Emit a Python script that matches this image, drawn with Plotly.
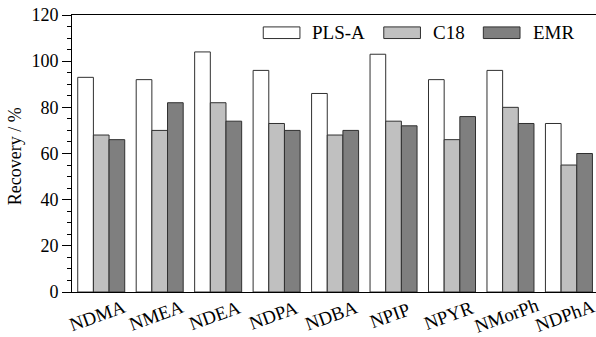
import plotly.graph_objects as go

categories = ["NDMA", "NMEA", "NDEA", "NDPA", "NDBA", "NPIP", "NPYR", "NMorPh", "NDPhA"]
series_names = ["PLS-A", "C18", "EMR"]
pls_a = [93, 92, 104, 96, 86, 103, 92, 96, 73]
c18 = [68, 70, 82, 73, 68, 74, 66, 80, 55]
emr = [66, 82, 74, 70, 70, 72, 76, 73, 60]
y_ticks = [0, 20, 40, 60, 80, 100, 120]
y_title = "Recovery / %"

colors = ["#ffffff", "#c0c0c0", "#7f7f7f"]
font_family = "Liberation Serif"

fig = go.Figure()
for name, vals, col in zip(series_names, [pls_a, c18, emr], colors):
    fig.add_trace(go.Bar(
        x=categories, y=vals, name=name,
        marker=dict(color=col, line=dict(color="#303030", width=1)),
        showlegend=False,
    ))

# manual legend (wide rectangular swatches as in reference)
legend_x = [0.365, 0.595, 0.785]
for i, (name, col) in enumerate(zip(series_names, colors)):
    x0 = legend_x[i]
    fig.add_shape(type="rect", xref="paper", yref="paper",
                  x0=x0, x1=x0 + 0.07, y0=0.915, y1=0.957,
                  fillcolor=col, line=dict(color="#303030", width=1))
    fig.add_annotation(xref="paper", yref="paper", x=x0 + 0.09, y=0.936,
                       text=name, showarrow=False, xanchor="left", yanchor="middle",
                       font=dict(family=font_family, size=19, color="#000"))

# category labels, centred under each group and rotated
for cat in categories:
    fig.add_annotation(x=cat, xref="x", y=0, yref="y", text=cat, showarrow=False,
                       textangle=-20, xanchor="center", yanchor="middle",
                       xshift=-4, yshift=-23,
                       font=dict(family=font_family, size=19, color="#000"))

# y-axis title
fig.add_annotation(xref="paper", yref="paper", x=0, y=0.49, xshift=-57,
                   text=y_title, showarrow=False, textangle=-90,
                   xanchor="center", yanchor="middle",
                   font=dict(family=font_family, size=18, color="#000"))

fig.update_layout(
    width=596, height=337,
    margin=dict(l=72, r=0, t=15, b=45),
    paper_bgcolor="white", plot_bgcolor="white",
    barmode="group", bargap=0.196, bargroupgap=0,
    font=dict(family=font_family, size=18, color="#000"),
    xaxis=dict(
        range=[-0.5, 8.463], autorange=False,
        showline=True, linecolor="#000", linewidth=1, mirror=True,
        ticks="", showticklabels=False, showgrid=False, automargin=False,
    ),
    yaxis=dict(
        range=[0, 120], autorange=False, tickvals=y_ticks, ticks="outside", ticklen=9, tickwidth=1,
        tickcolor="#000", showline=True, linecolor="#000", linewidth=1,
        showgrid=False, zeroline=False, automargin=False,
        minor=dict(dtick=5, ticks="outside", ticklen=4, tickcolor="#000"),
        tickfont=dict(family=font_family, size=18),
    ),
)

fig.write_html("out.html", config={"displayModeBar": False},
               post_script="document.body.style.margin='0';document.body.style.overflow='hidden';")
